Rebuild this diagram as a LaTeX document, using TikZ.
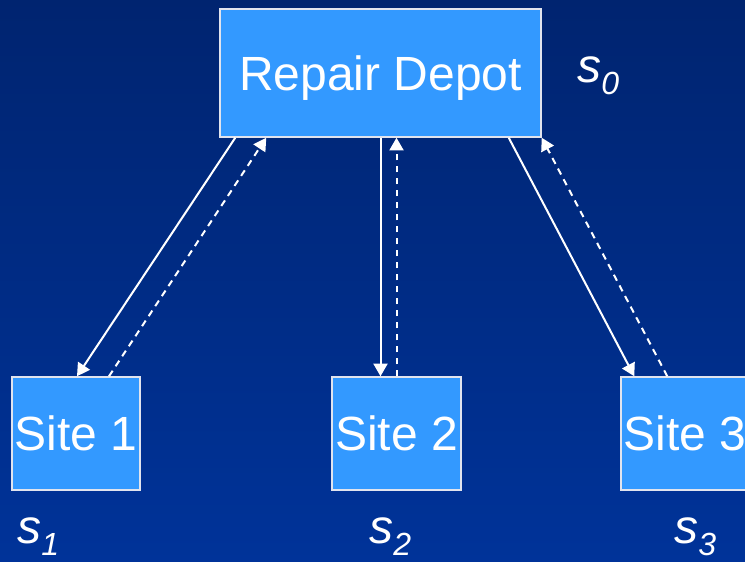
\documentclass[tikz,border=0pt]{standalone}
\usepackage{fontspec}
\setmainfont{Liberation Sans}
\usepackage{tikz}
\usetikzlibrary{positioning}
\usetikzlibrary{arrows.meta}
\usetikzlibrary{calc}

\definecolor{bgtop}{RGB}{0,36,112}
\definecolor{bgbottom}{RGB}{0,51,153}
\definecolor{boxblue}{RGB}{51,153,255}
\definecolor{boxline}{RGB}{225,228,238}

\newcommand{\statelabel}[1]{\fontsize{36}{36}\selectfont\itshape s\raisebox{-9pt}{\fontsize{24}{24}\selectfont #1}}

\tikzset{
	station/.style={draw=boxline, line width=1.1pt, fill=boxblue, text=white, inner sep=0pt,
		font=\fontsize{36}{36}\selectfont, text height=25.8pt, text depth=0pt},
	go/.style={white, line width=1.5pt, -{Triangle[length=9.5pt,width=10.5pt]}},
	back/.style={go, dash pattern=on 5pt off 4pt},
	statename/.style={anchor=base west, text=white, inner sep=0pt},
}

\begin{document}
\begin{tikzpicture}[x=0.75pt, y=-0.75pt]
		% Background
		\shade[top color=bgtop, bottom color=bgbottom] (0,0) rectangle (745,561);
		\useasboundingbox (0,0) rectangle (745,561);

		% Depot and sites
		\node[station, minimum width=240.75pt, minimum height=96pt] (depot) at (380.5,73) {Repair Depot};
		\node[station, minimum width=96pt, minimum height=84.75pt] (site1) at (76,433.5) {Site 1};
		\node[station, minimum width=96.75pt, minimum height=84.75pt] (site2) at (396.5,433.5) {Site 2};
		\node[station, minimum width=96pt, minimum height=84.75pt] (site3) at (685,433.5) {Site 3};

		% Trips out (solid) and back (dashed)
		\draw[go] ($(depot.south west)+(16,0)$) -- ($(site1.north)+(1,0)$);
		\draw[back] ($(site1.north)+(33,0)$) -- ($(depot.south west)+(47,0)$);
		\draw[go] (depot.south) -- ($(site2.north)+(-16,0)$);
		\draw[back] (site2.north) -- ($(depot.south)+(16,0)$);
		\draw[go] ($(depot.south east)+(-33,0)$) -- ($(site3.north west)+(14,0)$);
		\draw[back] ($(site3.north west)+(47,0)$) -- (depot.south east);

		% State labels
		\node[statename] (s0) at (577,82) {\statelabel{0}};
		\node[statename] (s1) at (17,543) {\statelabel{1}};
		\node[statename] (s2) at (369,543) {\statelabel{2}};
		\node[statename] (s3) at (674,543) {\statelabel{3}};
	\end{tikzpicture}
\end{document}
